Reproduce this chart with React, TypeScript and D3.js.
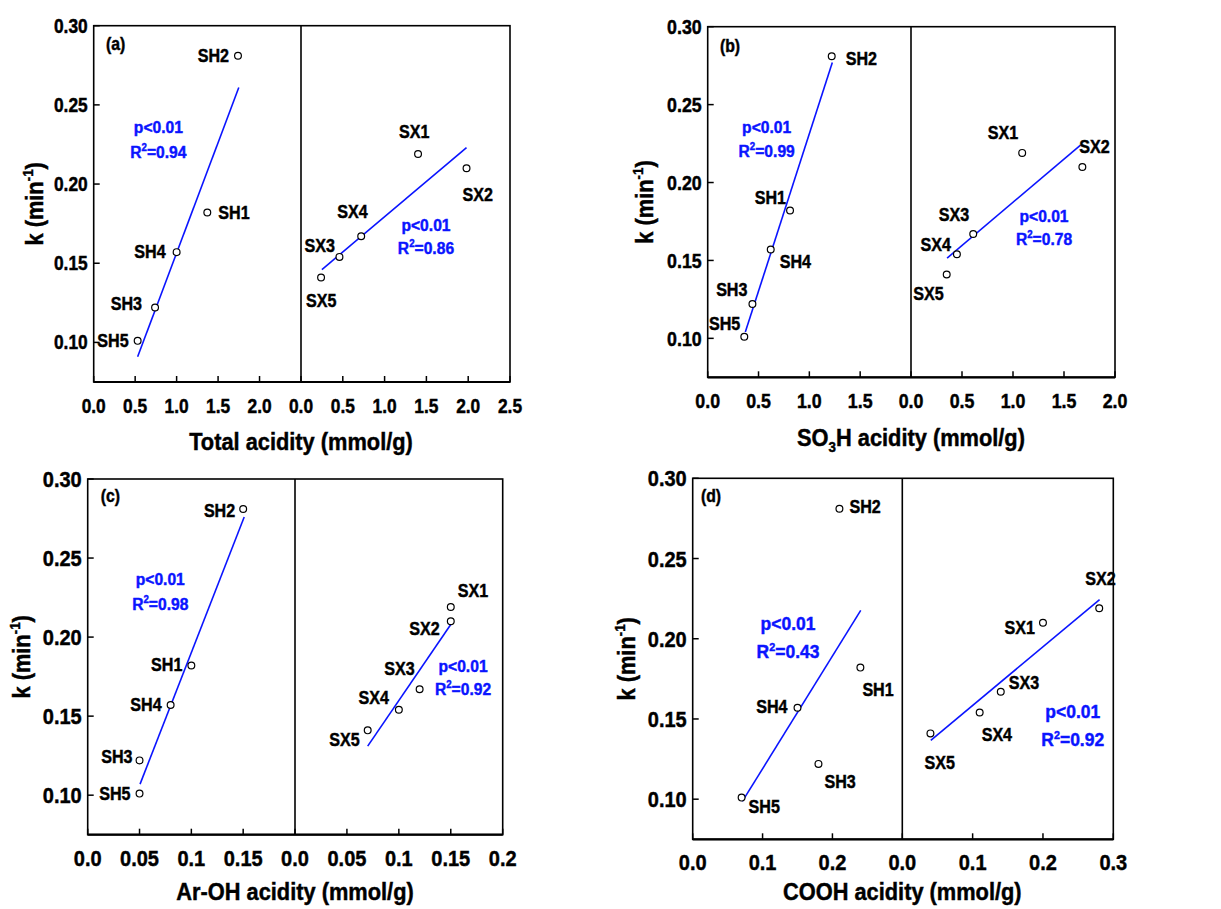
import React from "react";
import * as d3 from "d3";

// sample names
const shNames = ["SH1", "SH2", "SH3", "SH4", "SH5"];
const sxNames = ["SX1", "SX2", "SX3", "SX4", "SX5"];

// rate constant k (min-1)
const kSH = [0.182, 0.281, 0.122, 0.157, 0.101];
const kSX_a = [0.219, 0.21, 0.154, 0.167, 0.141];
const kSX_b = [0.219, 0.21, 0.167, 0.154, 0.141];
const kSX_c = [0.219, 0.21, 0.167, 0.154, 0.141];
const kSX_d = [0.21, 0.219, 0.167, 0.154, 0.141];

// acidities (mmol/g)
const totalSH = [1.37, 1.74, 0.74, 1.0, 0.53];
const totalSX = [1.4, 1.98, 0.46, 0.72, 0.24];
const so3hSH = [0.81, 1.22, 0.44, 0.62, 0.36];
const so3hSX = [1.09, 1.68, 0.61, 0.45, 0.35];
const arohSH = [0.1, 0.15, 0.05, 0.08, 0.05];
const arohSX = [0.15, 0.15, 0.12, 0.1, 0.07];
const coohSH = [0.24, 0.21, 0.18, 0.15, 0.07];
const coohSX = [0.2, 0.28, 0.14, 0.11, 0.04];

// fitted lines [x0, k0, x1, k1]
const fitA = [[0.53, 0.091, 1.75, 0.261], [0.25, 0.146, 1.98, 0.223]];
const fitB = [[0.37, 0.104, 1.226, 0.277], [0.354, 0.1515, 1.662, 0.224]];
const fitC = [[0.0505, 0.107, 0.151, 0.276], [0.07, 0.131, 0.15, 0.208]];
const fitD = [[0.071, 0.0986, 0.2405, 0.2177], [0.0405, 0.1367, 0.2805, 0.2244]];

// R2 of the fits
const r2A = ["0.94", "0.86"];
const r2B = ["0.99", "0.78"];
const r2C = ["0.98", "0.92"];
const r2D = ["0.43", "0.92"];

// tick labels
const yTicks = [0.1, 0.15, 0.2, 0.25, 0.3];
const xTicksA = [[0, 0.5, 1, 1.5, 2], [0, 0.5, 1, 1.5, 2, 2.5]];
const xTicksB = [[0, 0.5, 1, 1.5], [0, 0.5, 1, 1.5, 2]];
const xTicksC = [[0, 0.05, 0.1, 0.15], [0, 0.05, 0.1, 0.15, 0.2]];
const xTicksD = [[0, 0.1, 0.2], [0, 0.1, 0.2, 0.3]];
const xFmtA = (v) => d3.format(".1f")(v);
const xFmtC = (v) => (v === 0 ? "0.0" : String(v));

const BLUE = "#0a14ff";
const FONT = "Arial, 'Liberation Sans', sans-serif";

// layout: label placement [anchor, dx, dy]
const labA = [
  [["start", 11, 6], ["end", -9, 6], ["end", -13, 2], ["end", -11, 6], ["end", -9, 6]],
  [["start", -19, -16], ["start", -4, 33], ["start", -35, -5], ["start", -24, -18], ["start", -15, 30]],
];
const labB = [
  [["end", -4, -7], ["start", 14, 9], ["end", -5, -8], ["start", 9, 18], ["end", -4, -7]],
  [["end", -4, -14], ["start", -3, -14], ["end", -4, -13], ["end", -6, -3], ["end", -3, 26]],
];
const labC = [
  [["end", -9, 5], ["end", -8, 8], ["end", -7, 3], ["end", -9, 6], ["end", -9, 6]],
  [["start", 7, -10], ["end", -11, 14], ["end", -5, -14], ["end", -10, -6], ["end", -8, 16]],
];
const labD = [
  [["start", 2, 28], ["start", 10, 4], ["start", 6, 24], ["end", -10, 5], ["start", 7, 15]],
  [["end", -8, 11], ["start", -14, -23], ["start", 8, -3], ["start", 2, 28], ["start", -6, 36]],
];

const panels = [
  {
    id: "a", box: [93.7, 25.7, 510, 382], div: 301, dom: 2.5,
    xs: [totalSH, totalSX], ks: [kSH, kSX_a], fits: fitA, r2: r2A,
    ticks: xTicksA, fmt: xFmtA, labs: labA,
    stats: [[0.78, 0.232, 25], [1.495, 0.1704, 23]], statFont: 17,
    tickFont: 19.5, titleDy: 68, yTitleX: -51, tag: [12.3, 24.3],
    title: "Total acidity (mmol/g)",
  },
  {
    id: "b", box: [707.7, 26.7, 1115, 377.3], div: 911, dom: 2,
    xs: [so3hSH, so3hSX], ks: [kSH, kSX_b], fits: fitB, r2: r2B,
    ticks: xTicksB, fmt: xFmtA, labs: labB,
    stats: [[0.58, 0.232, 24], [1.304, 0.1748, 23]], statFont: 17,
    tickFont: 20, titleDy: 69, yTitleX: -55, tag: [12.3, 25],
    title: "SO3H",
  },
  {
    id: "c", box: [87.7, 479, 502.7, 834.7], div: 295, dom: 0.2,
    xs: [arohSH, arohSX], ks: [kSH, kSX_c], fits: fitC, r2: r2C,
    ticks: xTicksC, fmt: xFmtC, labs: labC,
    stats: [[0.07, 0.233, 25], [0.1618, 0.1777, 23]], statFont: 17,
    tickFont: 22.5, titleDy: 65, yTitleX: -58, tag: [13, 22.7],
    title: "Ar-OH acidity (mmol/g)",
  },
  {
    id: "d", box: [692.7, 478.3, 1113.3, 839.3], div: 902.3, dom: 0.3,
    xs: [coohSH, coohSX], ks: [kSH, kSX_d], fits: fitD, r2: r2D,
    ticks: xTicksD, fmt: xFmtA, labs: labD,
    stats: [[0.1364, 0.2054, 28], [0.2423, 0.1504, 28]], statFont: 19,
    tickFont: 22.5, titleDy: 61, yTitleX: -58, tag: [8.3, 23.4],
    title: "COOH acidity (mmol/g)",
  },
];

// condensed heavy text, like the narrow bold Arial of the original
function T({ x, y, size, anchor = "start", sx = 0.89, rotate = 0, fill = "#000", dy = 0, children }) {
  return (
    <text
      transform={`translate(${x},${y}) rotate(${rotate}) scale(${sx},1)`}
      textAnchor={anchor}
      fontSize={size}
      fill={fill}
      stroke={fill}
      strokeWidth={0.45}
      dy={dy}
    >
      {children}
    </text>
  );
}

function Panel({ p }) {
  const [left, top, right, bottom] = p.box;
  const y = d3.scaleLinear().domain([0.075, 0.3]).range([bottom, top]);
  const xHalf = [
    d3.scaleLinear().domain([0, p.dom]).range([left, p.div]),
    d3.scaleLinear().domain([0, p.dom]).range([p.div, right]),
  ];
  const names = [shNames, sxNames];
  const cy = (top + bottom) / 2;

  return (
    <g fontFamily={FONT} fontWeight="bold">
      {/* y ticks */}
      {yTicks.map((t) => (
        <g key={"y" + t}>
          <line x1={left} x2={left + 6} y1={y(t)} y2={y(t)} stroke="#000" strokeWidth={1.5} />
          <T x={left - 6} y={y(t)} dy="0.36em" anchor="end" size={p.tickFont}>
            {d3.format(".2f")(t)}
          </T>
        </g>
      ))}
      {/* x ticks, both halves */}
      {xHalf.map((x, h) =>
        p.ticks[h].map((t) => (
          <g key={"x" + h + t}>
            <line x1={x(t)} x2={x(t)} y1={bottom} y2={bottom - 6} stroke="#000" strokeWidth={1.5} />
            <T x={x(t)} y={bottom + 31} anchor="middle" size={p.tickFont}>
              {p.fmt(t)}
            </T>
          </g>
        ))
      )}
      {/* frame */}
      <rect x={left} y={top} width={right - left} height={bottom - top} fill="none" stroke="#000" strokeWidth={1.6} />
      <line x1={left} x2={right} y1={bottom} y2={bottom} stroke="#000" strokeWidth={2.2} />
      <line x1={p.div} x2={p.div} y1={top} y2={bottom} stroke="#000" strokeWidth={1.6} />

      {/* fits */}
      {xHalf.map((x, h) => {
        const f = p.fits[h];
        return (
          <line key={"f" + h} x1={x(f[0])} y1={y(f[1])} x2={x(f[2])} y2={y(f[3])} stroke={BLUE} strokeWidth={1.6} />
        );
      })}

      {/* points and labels */}
      {xHalf.map((x, h) =>
        p.xs[h].map((v, i) => {
          const px = x(v);
          const py = y(p.ks[h][i]);
          const [anchor, dx, dy] = p.labs[h][i];
          return (
            <g key={"p" + h + i}>
              <circle cx={px} cy={py} r={3.4} fill="#fff" stroke="#000" strokeWidth={1.2} />
              <T x={px + dx} y={py + dy} anchor={anchor} size={18.5} sx={0.87}>
                {names[h][i]}
              </T>
            </g>
          );
        })
      )}

      {/* statistics */}
      {xHalf.map((x, h) => {
        const [sxv, sk, gap] = p.stats[h];
        return (
          <g key={"s" + h}>
            <T x={x(sxv)} y={y(sk)} anchor="middle" size={p.statFont} sx={0.92} fill={BLUE}>
              p&lt;0.01
            </T>
            <T x={x(sxv)} y={y(sk) + gap} anchor="middle" size={p.statFont} sx={0.92} fill={BLUE}>
              R<tspan dy={-7} fontSize={p.statFont * 0.62}>2</tspan>
              <tspan dy={7}>={p.r2[h]}</tspan>
            </T>
          </g>
        );
      })}

      {/* panel tag */}
      <T x={left + p.tag[0]} y={top + p.tag[1]} size={17.5} sx={0.9}>
        ({p.id})
      </T>

      {/* x title */}
      <T x={p.div} y={bottom + p.titleDy} anchor="middle" size={24.5}>
        {p.title === "SO3H" ? (
          <>
            SO<tspan dy={6} fontSize={15}>3</tspan>
            <tspan dy={-6}>H acidity (mmol/g)</tspan>
          </>
        ) : (
          p.title
        )}
      </T>

      {/* y title */}
      <T x={left + p.yTitleX} y={cy} rotate={-90} anchor="middle" size={24.5}>
        k (min<tspan dy={-10} fontSize={15}>-1</tspan>
        <tspan dy={10}>)</tspan>
      </T>
    </g>
  );
}

export default function App() {
  return (
    <svg width={1221} height={909} style={{ position: "absolute", left: 0, top: 0, background: "#fff" }}>
      <rect width={1221} height={909} fill="#fff" />
      {panels.map((p) => (
        <Panel key={p.id} p={p} />
      ))}
    </svg>
  );
}
